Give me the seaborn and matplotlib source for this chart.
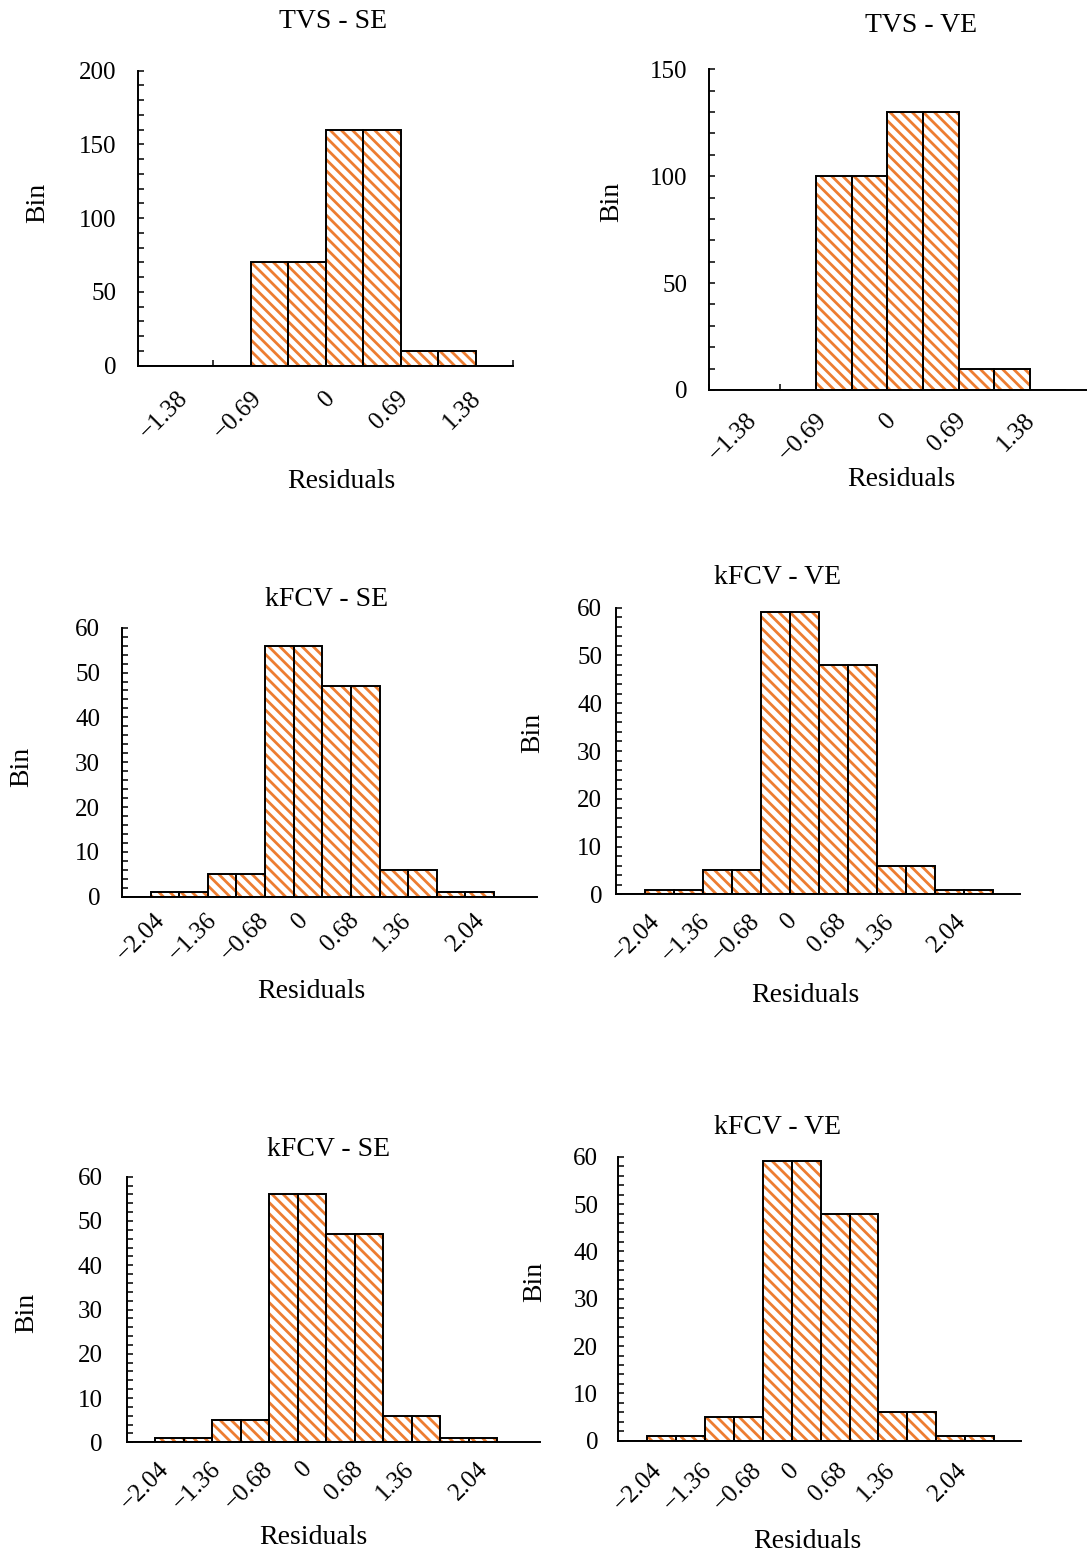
import numpy as np
import pandas as pd
import matplotlib
matplotlib.use('Agg')
import matplotlib.pyplot as plt
from matplotlib.ticker import MultipleLocator
import seaborn as sns

# bar heights per slot (every residual bin is drawn as a pair of equal bars)
tvs_se_counts = [0, 0, 0, 70, 70, 160, 160, 10, 10, 0]
tvs_ve_counts = [0, 0, 0, 100, 100, 130, 130, 10, 10, 0]
kfcv_se_counts = [0, 1, 1, 5, 5, 56, 56, 47, 47, 6, 6, 1, 1]
kfcv_ve_counts = [0, 1, 1, 5, 5, 59, 59, 48, 48, 6, 6, 1, 1]

tvs_labels = ['\u22121.38', '\u22120.69', '0', '0.69', '1.38']
kfcv_labels = ['\u22122.04', '\u22121.36', '\u22120.68', '0', '0.68', '1.36', '2.04']

titles = ['TVS - SE', 'TVS - VE', 'kFCV - SE', 'kFCV - VE', 'kFCV - SE', 'kFCV - VE']

sns.set_style('white')
plt.rcParams['font.family'] = ['Liberation Serif', 'DejaVu Serif']
plt.rcParams['hatch.linewidth'] = 2.0
for k in ['text.color', 'axes.labelcolor', 'xtick.color', 'ytick.color']:
    plt.rcParams[k] = 'black'

ORANGE = '#ED7D31'
W, H = 1087, 1553

# label positions along the slot axis (layout only)
tvs_pos = 0.75 + 1.95 * np.arange(len(tvs_labels))
kfcv_pos_left = [0.87, 2.68, 4.52, 5.88, 7.68, 9.47, 12.06]
kfcv_pos_right = [0.89, 2.62, 4.35, 5.63, 7.31, 8.96, 11.46]


def px_box(x0, x1, ytop, ybot):
    return [x0 / W, 1 - ybot / H, (x1 - x0) / W, (ybot - ytop) / H]


panels = [
    dict(counts=tvs_se_counts, labels=tvs_labels, pos=tvs_pos, box=(138, 513, 70.7, 365.7),
         xmax=9.5, ymax=200, major=50, minor=10, edge_ticks=9.5, xpad=20.9, ypad=15.8,
         title=(333, 22), bin=(38, 203), resid=(341, 482)),
    dict(counts=tvs_ve_counts, labels=tvs_labels, pos=tvs_pos, box=(709, 1087, 69.3, 390),
         xmax=10.1, ymax=150, major=50, minor=10, edge_ticks=7.5, xpad=19.4, ypad=15.8,
         title=(921, 25), bin=(612, 202), resid=(901, 480)),
    dict(counts=kfcv_se_counts, labels=kfcv_labels, pos=kfcv_pos_left, box=(122, 537, 627.7, 896.7),
         xmax=14.0, ymax=60, major=10, minor=2, edge_ticks=None, xpad=14.4, ypad=15.8,
         title=(327, 600), bin=(22, 767), resid=(311, 992)),
    dict(counts=kfcv_ve_counts, labels=kfcv_labels, pos=kfcv_pos_right, box=(616, 1020, 607.7, 894.3),
         xmax=13.43, ymax=60, major=10, minor=2, edge_ticks=None, xpad=16.6, ypad=10,
         title=(777.5, 577), bin=(533, 733), resid=(805, 995)),
    dict(counts=kfcv_se_counts, labels=kfcv_labels, pos=kfcv_pos_left, box=(126.7, 540, 1176.7, 1442.3),
         xmax=14.0, ymax=60, major=10, minor=2, edge_ticks=None, xpad=16.6, ypad=17.3,
         title=(329, 1150), bin=(27, 1313), resid=(313, 1537)),
    dict(counts=kfcv_ve_counts, labels=kfcv_labels, pos=kfcv_pos_right, box=(618.3, 1021, 1156.7, 1440.7),
         xmax=13.43, ymax=60, major=10, minor=2, edge_ticks=None, xpad=18.7, ypad=14.4,
         title=(778, 1127), bin=(535, 1282), resid=(807, 1542)),
]

fig = plt.figure(figsize=(W / 100, H / 100), dpi=100)

for title, p in zip(titles, panels):
    ax = fig.add_axes(px_box(*p['box']))
    df = pd.DataFrame({'slot': np.arange(len(p['counts'])), 'count': p['counts']})

    # hatched fill, then black outlines on top
    sns.barplot(data=df, x='slot', y='count', ax=ax, color='white', edgecolor=ORANGE,
                hatch='\\\\\\', linewidth=0, width=1.0, errorbar=None, saturation=1)
    sns.barplot(data=df, x='slot', y='count', ax=ax, color='black', fill=False,
                linewidth=1.4, width=1.0, errorbar=None, saturation=1)

    ax.set_xlim(-0.5, p['xmax'])
    ax.set_ylim(0, p['ymax'])
    ax.set_xlabel('')
    ax.set_ylabel('')
    sns.despine(ax=ax)
    for s in ['left', 'bottom']:
        ax.spines[s].set_linewidth(1.4)
        ax.spines[s].set_color('black')

    ax.yaxis.set_major_locator(MultipleLocator(p['major']))
    ax.yaxis.set_minor_locator(MultipleLocator(p['minor']))
    ax.tick_params(axis='y', which='both', direction='in', length=4.5, width=1.1,
                   color='black', labelsize=18, pad=p['ypad'], left=True)

    if p['edge_ticks'] is not None:
        ax.set_xticks(np.arange(-0.5, p['edge_ticks'] + 0.01, 2))
        ax.set_xticklabels([])
        ax.tick_params(axis='x', which='major', direction='in', length=4.5, width=1.1,
                       color='black', bottom=True)
    else:
        ax.set_xticks([])
    ax.set_xticks(p['pos'], minor=True)
    ax.set_xticklabels(p['labels'], minor=True, rotation=45, ha='right', va='center',
                       rotation_mode='anchor')
    ax.tick_params(axis='x', which='minor', length=0, labelsize=18, pad=p['xpad'], bottom=True)

    fig.text(p['title'][0] / W, 1 - p['title'][1] / H, title, ha='center', va='center', fontsize=20)
    fig.text(p['bin'][0] / W, 1 - p['bin'][1] / H, 'Bin', ha='center', va='center',
             rotation=90, fontsize=20)
    fig.text(p['resid'][0] / W, 1 - p['resid'][1] / H, 'Residuals', ha='center', va='center',
             fontsize=20)

fig.savefig('out.png', dpi=100)
